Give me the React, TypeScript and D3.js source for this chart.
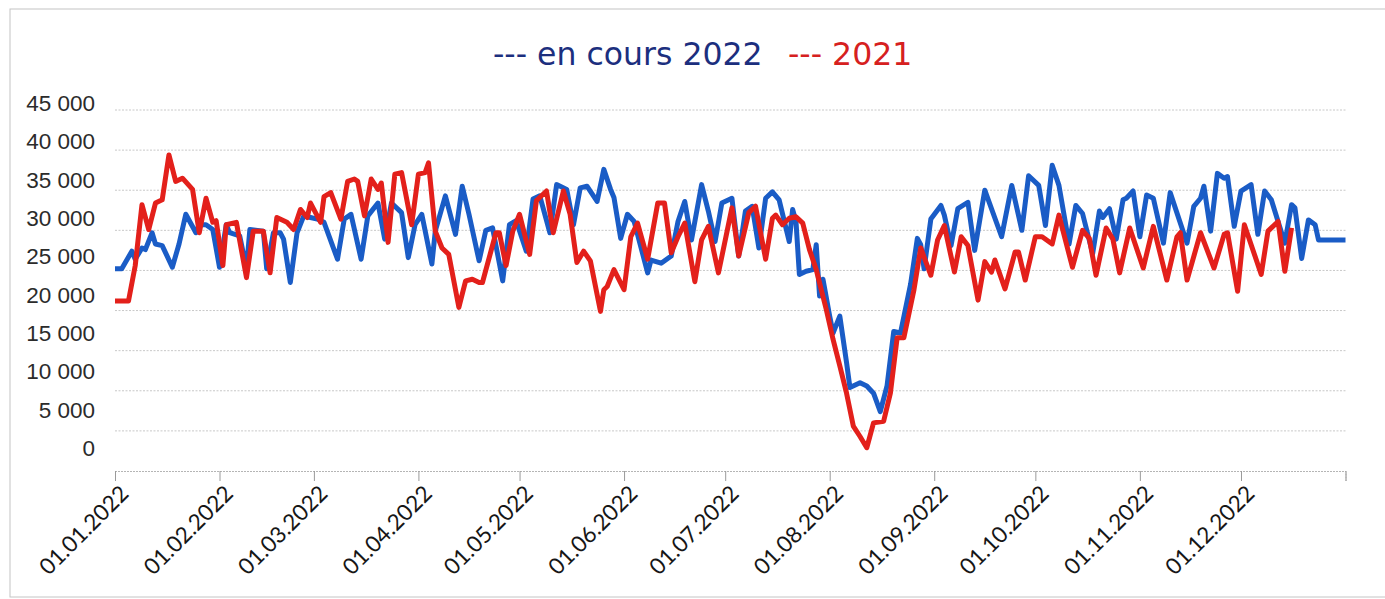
import { useEffect, useRef } from "react";
import * as d3 from "d3";

// jour de l'année (0 = 01.01) et valeur
const enCours2022: [number, number][] = [
  [0, 25200], [2, 25200], [5, 27400], [6, 26400], [8, 27800], [9, 27600], [11, 29700], [12, 28300],
  [14, 28100], [17, 25400], [19, 28300], [21, 32000], [24, 29700], [25, 30700], [27, 30700], [29, 30100],
  [31, 25400], [33, 30700], [34, 29700], [37, 29300], [39, 25200], [40, 30100], [44, 29900], [45, 25200],
  [47, 29700], [49, 29700], [50, 28900], [52, 23500], [54, 29700], [56, 31800], [58, 31600], [60, 31400],
  [62, 31000], [66, 26400], [68, 31400], [70, 32000], [73, 26400], [75, 31800], [78, 33400], [80, 28900],
  [82, 33400], [85, 32200], [87, 26600], [89, 30700], [91, 32000], [94, 25800], [95, 29900], [98, 34300],
  [101, 29500], [103, 35500], [105, 32000], [108, 26200], [110, 30000], [112, 30300], [115, 23700], [117, 30700],
  [119, 31200], [122, 27400], [124, 33900], [126, 34300], [129, 29700], [131, 35700], [134, 35100], [136, 30700],
  [138, 35300], [140, 35500], [143, 33600], [145, 37600], [147, 35100], [148, 34100], [150, 29000], [152, 32000],
  [154, 31100], [158, 24700], [159, 26300], [162, 25900], [165, 26800], [167, 31100], [169, 33600], [171, 28800],
  [174, 35700], [176, 32400], [178, 28600], [180, 33400], [183, 34000], [185, 26800], [187, 32400], [189, 33000],
  [191, 27800], [193, 34000], [195, 34800], [197, 33800], [200, 28600], [201, 32600], [202, 31100], [203, 24500],
  [205, 24900], [207, 25100], [208, 28200], [209, 21800], [210, 23900], [212, 19300], [213, 17200], [215, 19300],
  [217, 13500], [218, 10400], [221, 11000], [223, 10600], [225, 9700], [227, 7400], [229, 10600], [231, 17400],
  [233, 17200], [236, 23300], [238, 29000], [239, 28200], [240, 25200], [242, 31400], [245, 33100], [246, 31900],
  [248, 28100], [250, 32700], [253, 33500], [255, 27500], [258, 35000], [263, 29200], [266, 35600], [269, 30000],
  [271, 36800], [274, 35600], [276, 30600], [278, 38100], [280, 35600], [283, 28300], [285, 33100], [287, 32100],
  [290, 27100], [292, 32400], [293, 31600], [295, 32700], [297, 28900], [299, 33800], [300, 34000], [302, 34900],
  [304, 29200], [306, 34400], [308, 34000], [311, 28400], [313, 34700], [318, 28400], [320, 33000], [322, 34000],
  [323, 35500], [325, 29900], [327, 37100], [329, 36500], [330, 36700], [332, 30500], [334, 34900], [337, 35700],
  [339, 29500], [341, 34900], [343, 33800], [347, 28400], [349, 33200], [350, 32800], [352, 26500], [354, 31300],
  [356, 30700], [357, 28800], [365, 28800],
];

const annee2021: [number, number][] = [
  [0, 21200], [4, 21200], [6, 25600], [8, 33200], [10, 30100], [12, 33400], [14, 33800], [16, 39400],
  [18, 36100], [20, 36500], [23, 35100], [25, 29700], [27, 34000], [29, 31000], [30, 31200], [32, 25600],
  [33, 30700], [36, 31000], [39, 24100], [41, 29900], [44, 29900], [46, 24700], [48, 31600], [51, 31000],
  [53, 30100], [55, 32600], [57, 31600], [58, 33400], [61, 31000], [62, 34200], [64, 34700], [67, 31400],
  [69, 36100], [71, 36400], [72, 36100], [74, 31800], [76, 36400], [78, 35100], [79, 35900], [81, 28500],
  [83, 37000], [85, 37200], [88, 30700], [90, 37000], [92, 37200], [93, 38400], [95, 29900], [97, 27800],
  [99, 27000], [102, 20400], [104, 23700], [106, 23900], [108, 23500], [109, 23500], [113, 29700], [114, 29700],
  [116, 25600], [118, 29900], [120, 32000], [123, 27000], [125, 33700], [128, 34900], [130, 29700], [133, 34900],
  [135, 32000], [137, 26000], [139, 27400], [141, 26200], [144, 19900], [145, 22600], [146, 23000], [148, 25100],
  [151, 22600], [153, 29200], [155, 30900], [158, 26400], [161, 33400], [163, 33400], [165, 27200], [167, 29200],
  [169, 30900], [172, 23600], [174, 28800], [176, 30500], [179, 24700], [183, 32800], [185, 26800], [188, 32200],
  [190, 33000], [193, 26400], [195, 31500], [196, 31900], [198, 30700], [200, 31500], [202, 31700], [204, 30900],
  [206, 27600], [208, 25100], [211, 20100], [213, 16400], [215, 13100], [217, 9700], [219, 5600], [221, 4300],
  [223, 2900], [225, 6000], [228, 6200], [230, 9700], [232, 16600], [234, 16600], [237, 22600], [239, 27800],
  [242, 24400], [244, 28800], [246, 30600], [249, 24800], [251, 29200], [253, 28100], [256, 21300], [258, 26100],
  [260, 24800], [261, 26300], [264, 22700], [267, 27300], [268, 27300], [270, 23800], [273, 29200], [275, 29200],
  [278, 28300], [280, 31900], [284, 25400], [287, 30000], [289, 29000], [291, 24400], [294, 30300], [296, 28900],
  [298, 24700], [301, 30300], [305, 25300], [308, 30500], [312, 23800], [315, 29200], [316, 29700], [318, 23800],
  [322, 29700], [326, 25300], [329, 29500], [330, 29700], [333, 22400], [335, 30700], [340, 24500], [342, 29900],
  [345, 31100], [347, 24900], [349, 30300],
];

const yTicks = [0, 5000, 10000, 15000, 20000, 25000, 30000, 35000, 40000, 45000];

const START = new Date(2022, 0, 1);
const END = new Date(2023, 0, 1);

const App = () => {
  const svgRef = useRef<SVGSVGElement>(null);

  useEffect(() => {
    const svg = d3.select(svgRef.current);
    svg.selectAll("*").remove();

    const width = 1385;
    const height = 599;

    const x = d3.scaleTime().domain([START, END]).range([115, 1345.5]);
    const y = d3.scaleLinear().domain([0, 45000]).range([471, 110]);
    // les libellés du scan sont un peu décalés des lignes de grille
    const yLabel = d3.scaleLinear().domain([0, 45000]).range([448, 103]);

    const fmt = d3.formatLocale({ decimal: ",", thousands: " ", grouping: [3], currency: ["", ""] }).format(",");

    svg.append("rect").attr("width", width).attr("height", height).attr("fill", "#fff");

    // cadre du graphique
    svg
      .append("rect")
      .attr("x", 10)
      .attr("y", 9)
      .attr("width", 1400)
      .attr("height", 588)
      .attr("fill", "none")
      .attr("stroke", "#c4c4c4")
      .attr("stroke-width", 1);

    // titre / légende
    svg
      .append("text")
      .attr("x", 493)
      .attr("y", 65)
      .attr("font-family", "DejaVu Sans")
      .attr("font-size", "31.5px")
      .attr("fill", "#1c2f7e")
      .text("--- en cours 2022");
    svg
      .append("text")
      .attr("x", 788)
      .attr("y", 65)
      .attr("font-family", "DejaVu Sans")
      .attr("font-size", "31.5px")
      .attr("fill", "#d62020")
      .text("--- 2021");

    // grille horizontale
    svg
      .append("g")
      .selectAll("line")
      .data(yTicks.slice(1))
      .enter()
      .append("line")
      .attr("x1", 115)
      .attr("x2", 1345.5)
      .attr("y1", (d) => y(d))
      .attr("y2", (d) => y(d))
      .attr("stroke", "#c8c8c8")
      .attr("stroke-width", 1)
      .attr("stroke-dasharray", "2,1.5");

    // libellés Y
    svg
      .append("g")
      .selectAll("text")
      .data(yTicks)
      .enter()
      .append("text")
      .attr("x", 95)
      .attr("y", (d) => yLabel(d))
      .attr("dy", "0.36em")
      .attr("text-anchor", "end")
      .attr("font-family", "Liberation Sans")
      .attr("font-size", "22.5px")
      .attr("fill", "#2b2b2b")
      .text((d) => fmt(d));

    // axe X
    const xAxis = svg
      .append("g")
      .attr("transform", `translate(0, ${y(0)})`)
      .call(
        d3
          .axisBottom(x)
          .tickValues([...d3.timeMonth.range(START, END), END])
          .tickSize(10)
          .tickFormat(() => "")
      );
    xAxis.select(".domain").attr("stroke", "#b5b5b5").attr("stroke-dasharray", "2,1");
    xAxis.selectAll(".tick line").attr("stroke", "#9a9a9a");

    svg
      .append("g")
      .selectAll("text")
      .data(d3.timeMonth.range(START, END))
      .enter()
      .append("text")
      .attr("transform", (d) => `translate(${x(d) + 15}, 495) rotate(-45)`)
      .attr("text-anchor", "end")
      .attr("font-family", "Lato")
      .attr("font-size", "22.5px")
      .attr("fill", "#161616")
      .text((d) => d3.timeFormat("%d.%m.%Y")(d));

    const line = d3
      .line<[number, number]>()
      .x((d) => x(d3.timeDay.offset(START, d[0])))
      .y((d) => y(d[1]));

    // courbe 2022 (bleu)
    svg
      .append("path")
      .datum(enCours2022)
      .attr("d", line)
      .attr("fill", "none")
      .attr("stroke", "#1a5cc6")
      .attr("stroke-width", 5)
      .attr("stroke-linejoin", "round");

    // courbe 2021 (rouge)
    svg
      .append("path")
      .datum(annee2021)
      .attr("d", line)
      .attr("fill", "none")
      .attr("stroke", "#e3201b")
      .attr("stroke-width", 5)
      .attr("stroke-linejoin", "round");
  }, []);

  return (
    <svg
      ref={svgRef}
      width={1385}
      height={599}
      style={{ position: "absolute", left: 0, top: 0, display: "block" }}
    ></svg>
  );
};

export default App;
